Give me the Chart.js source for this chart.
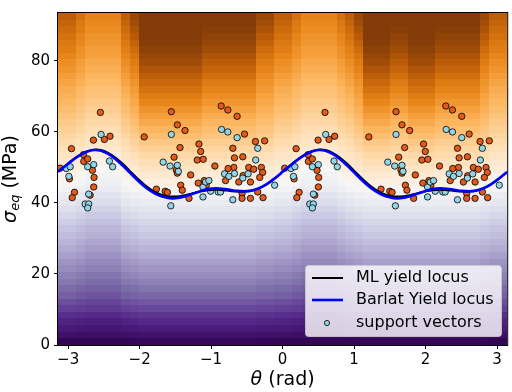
<!DOCTYPE html>
<html>
<head>
<meta charset="utf-8">
<script src="https://cdn.jsdelivr.net/npm/chart.js@4.4.0/dist/chart.umd.min.js"></script>
<style>
html, body { margin: 0; padding: 0; background: #fff; }
</style>
</head>
<body>
<canvas id="chart" width="512" height="392"></canvas>
<script>
// axis ticks
var xTicks = [-3, -2, -1, 0, 1, 2, 3];
var yTicks = [0, 20, 40, 60, 80];
var thetaMin = -Math.PI, thetaMax = Math.PI;
var sigmaMin = 0, sigmaMax = 93.5;

// yield loci (theta in rad, sigma in MPa)
var locusTheta = [-3.14,-3.04,-2.94,-2.84,-2.74,-2.64,-2.54,-2.44,-2.34,-2.24,-2.14,-2.04,-1.94,-1.84,-1.74,-1.64,
    -1.54,-1.44,-1.34,-1.24,-1.14,-1.04,-0.94,-0.84,-0.74,-0.64,-0.54,-0.44,-0.34,-0.24,-0.14,-0.04,
    0.0,0.1,0.2,0.3,0.4,0.5,0.6,0.7,0.8,0.9,1.0,1.1,1.2,1.3,1.4,1.5,1.6,1.7,1.8,1.9,2.0,2.1,2.2,2.3,2.4,
    2.5,2.6,2.7,2.8,2.9,3.0,3.1,3.14];
var barlatSigma = [48.8,50.4,52.0,53.4,54.4,54.9,54.7,53.8,52.4,50.6,48.6,46.6,44.8,43.3,42.2,41.6,
    41.3,41.5,42.0,42.7,43.4,43.9,44.1,44.0,43.7,43.4,43.3,43.5,44.1,45.1,46.5,48.1,
    48.8,50.4,52.0,53.4,54.4,54.9,54.7,53.8,52.4,50.6,48.6,46.6,44.8,43.3,42.2,41.6,41.3,41.5,42.0,42.7,43.4,
    43.9,44.1,44.0,43.7,43.4,43.3,43.5,44.1,45.1,46.5,48.1,48.7];
var mlSigma = [48.9,50.5,52.1,53.5,54.5,55.0,54.9,54.1,52.8,51.1,49.1,47.1,45.3,43.8,42.7,42.0,
    41.8,41.9,42.3,42.8,43.3,43.6,43.7,43.6,43.4,43.2,43.2,43.4,44.0,45.0,46.4,48.0,
    48.9,50.5,52.1,53.5,54.5,55.0,54.9,54.1,52.8,51.1,49.1,47.1,45.3,43.8,42.7,42.0,41.8,41.9,42.3,42.8,43.3,
    43.6,43.7,43.6,43.4,43.2,43.2,43.4,44.0,45.0,46.4,48.0,48.6];

// sample points (not support vectors)
var pointTheta = [-2.549,-1.556,-1.472,-1.365,-0.859,-0.766,-0.636,-0.533,-2.414,-2.493,-2.646,-1.936,-2.953,-2.786,-2.781,-2.726,
    -2.660,-2.637,-2.642,-2.692,-2.911,-2.943,-2.981,-1.765,-1.643,-1.611,-1.518,-1.435,-1.486,-1.472,-1.425,-1.403,
    -1.309,-1.286,-1.170,-1.146,-1.194,-1.110,-0.947,-1.096,-1.180,-1.068,-0.696,-0.673,-0.682,-0.762,-0.557,-0.798,
    -0.613,-0.553,-0.474,-0.404,-0.450,-0.567,-0.567,-0.450,-0.380,-0.297,-0.279,-0.320,-0.348,-0.274,-0.251,-3.113,
    0.593,1.586,1.670,1.777,2.283,2.376,2.506,2.609,0.728,0.649,0.496,1.206,0.189,0.356,0.361,0.416,
    0.482,0.505,0.500,0.450,0.231,0.199,0.161,1.377,1.499,1.531,1.624,1.707,1.656,1.670,1.717,1.739,
    1.833,1.856,1.972,1.996,1.948,2.032,2.195,2.046,1.962,2.074,2.446,2.469,2.460,2.380,2.585,2.344,
    2.529,2.589,2.668,2.738,2.692,2.575,2.575,2.692,2.762,2.845,2.863,2.822,2.794,2.868,2.891,0.029];
var pointSigma = [65.5,65.7,62.0,60.4,67.3,66.2,64.4,59.4,58.8,57.9,57.7,58.6,55.3,53.6,51.7,52.4,
    49.2,47.2,44.5,42.2,43.0,41.5,46.8,43.9,43.3,43.0,52.9,55.6,49.3,48.4,45.0,43.6,
    41.3,47.9,56.6,54.5,52.1,52.3,50.4,46.3,45.6,45.0,55.4,52.7,50.0,49.7,53.0,46.3,
    45.9,47.7,50.0,49.5,45.9,42.7,41.3,41.3,57.3,50.0,48.6,47.2,43.1,41.5,57.5,49.8,
    65.5,65.7,62.0,60.4,67.3,66.2,64.4,59.4,58.8,57.9,57.7,58.6,55.3,53.6,51.7,52.4,
    49.2,47.2,44.5,42.2,43.0,41.5,46.8,43.9,43.3,43.0,52.9,55.6,49.3,48.4,45.0,43.6,
    41.3,47.9,56.6,54.5,52.1,52.3,50.4,46.3,45.6,45.0,55.4,52.7,50.0,49.7,53.0,46.3,
    45.9,47.7,50.0,49.5,45.9,42.7,41.3,41.3,57.3,50.0,48.6,47.2,43.1,41.5,57.5,49.8];

// support vectors
var svTheta = [-2.539,-1.556,-0.854,-0.766,-0.636,-3.026,-2.971,-2.990,-2.726,-2.642,-2.712,-2.762,-2.712,-2.726,-2.423,-2.377,
    -1.671,-1.574,-1.472,-1.458,-1.564,-1.114,-1.077,-1.031,-1.007,-1.114,-0.901,-0.868,-0.696,-0.812,-0.752,-0.673,
    -0.557,-0.483,-0.348,-0.376,-0.111,
    0.603,1.586,2.288,2.376,2.506,0.116,0.171,0.152,0.416,0.500,0.430,0.380,0.430,0.416,0.719,0.765,
    1.471,1.568,1.670,1.684,1.578,2.028,2.065,2.111,2.135,2.028,2.241,2.274,2.446,2.330,2.390,2.469,
    2.585,2.659,2.794,2.766,3.031];
var svSigma = [59.3,59.3,60.7,60.0,58.4,49.7,50.2,47.5,50.2,50.8,42.5,39.7,39.7,38.6,51.8,50.2,
    51.5,50.4,50.6,48.9,39.2,44.5,45.9,46.3,43.3,41.7,43.1,43.1,40.9,48.2,47.5,48.3,
    47.0,48.2,55.4,52.1,45.0,
    59.3,59.3,60.7,60.0,58.4,49.7,50.2,47.5,50.2,50.8,42.5,39.7,39.7,38.6,51.8,50.2,
    51.5,50.4,50.6,48.9,39.2,44.5,45.9,46.3,43.3,41.7,43.1,43.1,40.9,48.2,47.5,48.3,
    47.0,48.2,55.4,52.1,45.0];

// background field: 50 theta columns, each of one profile type; profiles list 50 levels
// from the top row down (0 = dark purple, 10 = white, 20 = dark orange)
var heatColumnTypes = 'CCDEEEECB1111111222222BBCCDEEEEDCB1112211122222BCC';
var heatProfile1 = [20,20,20,20,19.9,19.6,19.2,18.8,18.3,17.8,17.4,16.9,16.4,16.0,15.5,15.0,14.6,14.1,13.7,13.2,
    12.8,12.4,12.0,11.6,11.2,10.7,10.2,9.6,9.2,8.7,8.3,7.9,7.5,7.2,6.8,6.4,6.0,5.6,5.3,4.9,
    4.5,4.1,3.7,3.3,2.9,2.4,2.0,1.5,1.0,0.4];
var heatProfile2 = [20,20,19.8,19.5,19.2,18.8,18.4,17.9,17.5,17.0,16.5,16.1,15.7,15.3,14.9,14.5,14.1,13.7,13.3,12.9,
    12.5,12.2,11.8,11.4,11.0,10.6,10.1,9.6,9.2,8.7,8.3,7.9,7.5,7.2,6.8,6.4,6.0,5.6,5.3,4.9,
    4.5,4.1,3.7,3.3,2.9,2.4,2.0,1.5,1.0,0.4];
var heatProfileB = [19.1,18.8,18.4,18.0,17.6,17.2,16.8,16.4,16.1,15.8,15.5,15.2,14.9,14.6,14.3,14.0,13.7,13.3,13.0,12.6,
    12.3,11.9,11.6,11.2,10.8,10.4,9.9,9.4,9.0,8.5,8.1,7.7,7.3,7.0,6.6,6.2,5.8,5.4,5.1,4.7,
    4.3,3.9,3.6,3.2,2.8,2.3,1.9,1.4,0.9,0.4];
var heatProfileC = [17.8,17.5,17.2,16.9,16.6,16.3,16.0,15.7,15.4,15.1,14.8,14.5,14.2,14.0,13.7,13.4,13.1,12.8,12.5,12.2,
    11.9,11.6,11.3,10.9,10.5,10.1,9.7,9.2,8.8,8.3,7.9,7.5,7.1,6.8,6.4,6.0,5.6,5.2,4.9,4.5,
    4.2,3.8,3.5,3.1,2.7,2.2,1.8,1.4,0.9,0.3];
var heatProfileD = [16.9,16.6,16.4,16.1,15.9,15.6,15.4,15.1,14.9,14.6,14.3,14.0,13.8,13.5,13.3,13.0,12.8,12.5,12.2,11.9,
    11.6,11.3,11.0,10.6,10.2,9.8,9.4,8.9,8.5,8.0,7.6,7.2,6.8,6.5,6.1,5.8,5.4,5.0,4.7,4.3,
    4.0,3.6,3.3,2.9,2.6,2.1,1.7,1.3,0.8,0.3];
var heatProfileE = [16.1,15.9,15.7,15.5,15.3,15.1,14.9,14.6,14.4,14.1,13.9,13.6,13.4,13.1,12.9,12.6,12.4,12.1,11.8,11.5,
    11.2,10.8,10.4,10.0,9.7,9.4,9.1,8.6,8.2,7.7,7.3,6.9,6.5,6.2,5.8,5.5,5.1,4.8,4.5,4.1,
    3.8,3.5,3.2,2.8,2.5,2.0,1.6,1.2,0.8,0.3];
var heatProfiles = {'1': heatProfile1, '2': heatProfile2, 'B': heatProfileB,
    'C': heatProfileC, 'D': heatProfileD, 'E': heatProfileE};

// purple-orange colour scale, level 0..20
var heatPalette = ['#2d004b','#40126b','#542788','#6a4c9c','#8073ac','#998fc0','#b2abd2','#c5c2e0',
    '#d8daeb','#e8e9f1','#f7f7f7','#fbebd8','#fee0b6','#fdcc8d','#fdb863','#f59f3c','#e8861a',
    '#d2700e','#b85a07','#9c4a07','#833c07'];

function pairs(xs, ys) {
    return xs.map(function (x, i) { return {x: x, y: ys[i]}; });
}

function hexRgb(h) {
    return [parseInt(h.substr(1, 2), 16), parseInt(h.substr(3, 2), 16), parseInt(h.substr(5, 2), 16)];
}
var paletteRgb = heatPalette.map(hexRgb);

function levelColor(v) {
    v = Math.max(0, Math.min(20, v));
    var i = Math.min(19, Math.floor(v)), f = v - i;
    var a = paletteRgb[i], b = paletteRgb[i + 1];
    return 'rgb(' + Math.round(a[0] + (b[0] - a[0]) * f) + ',' +
        Math.round(a[1] + (b[1] - a[1]) * f) + ',' + Math.round(a[2] + (b[2] - a[2]) * f) + ')';
}

var FONT = "'DejaVu Sans', sans-serif";

var heatPlugin = {
    id: 'heat',
    beforeDatasetsDraw: function (chart) {
        var ctx = chart.ctx, xs = chart.scales.x, ys = chart.scales.y, a = chart.chartArea;
        var nCols = heatColumnTypes.length, nRows = heatProfile1.length;
        var dTh = (xs.max - xs.min) / nCols, dSg = (ys.max - ys.min) / nRows;
        ctx.save();
        ctx.beginPath();
        ctx.rect(a.left, a.top, a.right - a.left, a.bottom - a.top);
        ctx.clip();
        for (var r = 0; r < nRows; r++) {
            var yb = Math.round(ys.getPixelForValue(ys.min + r * dSg));
            var yt = Math.round(ys.getPixelForValue(ys.min + (r + 1) * dSg));
            for (var c = 0; c < nCols; c++) {
                var prof = heatProfiles[heatColumnTypes.charAt(c)];
                var xl = Math.round(xs.getPixelForValue(xs.min + c * dTh));
                var xr = Math.round(xs.getPixelForValue(xs.min + (c + 1) * dTh));
                ctx.fillStyle = levelColor(prof[nRows - 1 - r]);
                ctx.fillRect(xl, yt, xr - xl, yb - yt);
            }
        }
        ctx.restore();
    },
    afterDraw: function (chart) {
        var ctx = chart.ctx, a = chart.chartArea;
        ctx.save();
        // frame
        ctx.strokeStyle = '#000';
        ctx.lineWidth = 1;
        ctx.strokeRect(a.left - 0.5, a.top - 0.5, a.right - a.left + 1, a.bottom - a.top + 1);

        // legend
        var lx = 305.5, ly = 265.5, lw = 196, lh = 71, rad = 3;
        ctx.beginPath();
        ctx.moveTo(lx + rad, ly);
        ctx.arcTo(lx + lw, ly, lx + lw, ly + lh, rad);
        ctx.arcTo(lx + lw, ly + lh, lx, ly + lh, rad);
        ctx.arcTo(lx, ly + lh, lx, ly, rad);
        ctx.arcTo(lx, ly, lx + lw, ly, rad);
        ctx.closePath();
        ctx.fillStyle = 'rgba(255,255,255,0.8)';
        ctx.fill();
        ctx.strokeStyle = 'rgba(204,204,204,0.8)';
        ctx.stroke();
        var items = [chart.data.datasets[1], chart.data.datasets[0], chart.data.datasets[2]];
        var rows = [278, 300, 323];
        ctx.font = '16px ' + FONT;
        ctx.textBaseline = 'middle';
        ctx.textAlign = 'left';
        items.forEach(function (ds, i) {
            var y = rows[i];
            if (ds.showLine) {
                ctx.strokeStyle = ds.borderColor;
                ctx.lineWidth = ds.borderWidth;
                ctx.beginPath();
                ctx.moveTo(312, y);
                ctx.lineTo(343, y);
                ctx.stroke();
            } else {
                ctx.beginPath();
                ctx.arc(327, y, 2.6, 0, 2 * Math.PI);
                ctx.fillStyle = ds.backgroundColor;
                ctx.fill();
                ctx.strokeStyle = '#000';
                ctx.lineWidth = 0.8;
                ctx.stroke();
            }
            ctx.fillStyle = '#000';
            ctx.fillText(ds.label, 356, y);
        });

        // axis titles
        ctx.fillStyle = '#000';
        ctx.textBaseline = 'middle';
        var fi = 'italic 19px ' + FONT, fr = '19px ' + FONT;
        ctx.font = fi; var w1 = ctx.measureText('\u03b8').width;
        ctx.font = fr; var w2 = ctx.measureText(' (rad)').width;
        var x0 = (a.left + a.right) / 2 - (w1 + w2) / 2;
        ctx.font = fi; ctx.fillText('\u03b8', x0, 380);
        ctx.font = fr; ctx.fillText(' (rad)', x0 + w1, 380);
        var fs = 'italic 13px ' + FONT;
        ctx.font = fi; var s1 = ctx.measureText('\u03c3').width;
        ctx.font = fs; var s2 = ctx.measureText('eq').width;
        ctx.font = fr; var s3 = ctx.measureText(' (MPa)').width;
        ctx.translate(11, (a.top + a.bottom) / 2);
        ctx.rotate(-Math.PI / 2);
        var t0 = -(s1 + s2 + s3) / 2;
        ctx.font = fi; ctx.fillText('\u03c3', t0, 0);
        ctx.font = fs; ctx.fillText('eq', t0 + s1, 5);
        ctx.font = fr; ctx.fillText(' (MPa)', t0 + s1 + s2, 0);
        ctx.restore();
    }
};

var canvas = document.getElementById('chart').getContext('2d');
window.bar = new Chart(canvas, {
    type: 'scatter',
    data: {
        datasets: [{
            label: 'Barlat Yield locus',
            data: pairs(locusTheta, barlatSigma),
            showLine: true,
            borderColor: '#0000ff',
            borderWidth: 2.6,
            pointRadius: 0,
            tension: 0.4,
            order: 1
        }, {
            label: 'ML yield locus',
            data: pairs(locusTheta, mlSigma),
            showLine: true,
            borderColor: '#000000',
            borderWidth: 2,
            pointRadius: 0,
            tension: 0.4,
            order: 2
        }, {
            label: 'support vectors',
            data: pairs(svTheta, svSigma),
            backgroundColor: '#93d4e6',
            borderColor: '#000000',
            borderWidth: 0.8,
            pointRadius: 3.2,
            order: 3
        }, {
            label: 'points',
            data: pairs(pointTheta, pointSigma),
            backgroundColor: '#e35a1a',
            borderColor: '#000000',
            borderWidth: 0.8,
            pointRadius: 3.2,
            order: 4
        }]
    },
    options: {
        responsive: false,
        animation: false,
        layout: {padding: {left: 0, right: 2, top: 2, bottom: 0}},
        plugins: {legend: {display: false}, tooltip: {enabled: false}},
        scales: {
            x: {
                type: 'linear',
                min: thetaMin,
                max: thetaMax,
                afterBuildTicks: function (s) { s.ticks = xTicks.map(function (v) { return {value: v}; }); },
                afterFit: function (s) { s.height = 47; },
                ticks: {
                    font: {family: 'DejaVu Sans', size: 15},
                    color: '#000',
                    padding: 2,
                    maxRotation: 0,
                    autoSkip: false,
                    callback: function (v) { return String(v).replace('-', '\u2212'); }
                },
                grid: {drawOnChartArea: false, drawTicks: true, tickLength: 4, color: '#000'},
                border: {display: false}
            },
            y: {
                min: sigmaMin,
                max: sigmaMax,
                afterBuildTicks: function (s) { s.ticks = yTicks.map(function (v) { return {value: v}; }); },
                afterFit: function (s) { s.width = 58; },
                ticks: {
                    font: {family: 'DejaVu Sans', size: 15},
                    color: '#000',
                    padding: 4,
                    autoSkip: false
                },
                grid: {drawOnChartArea: false, drawTicks: true, tickLength: 4, color: '#000'},
                border: {display: false}
            }
        }
    },
    plugins: [heatPlugin]
});
</script>
</body>
</html>
